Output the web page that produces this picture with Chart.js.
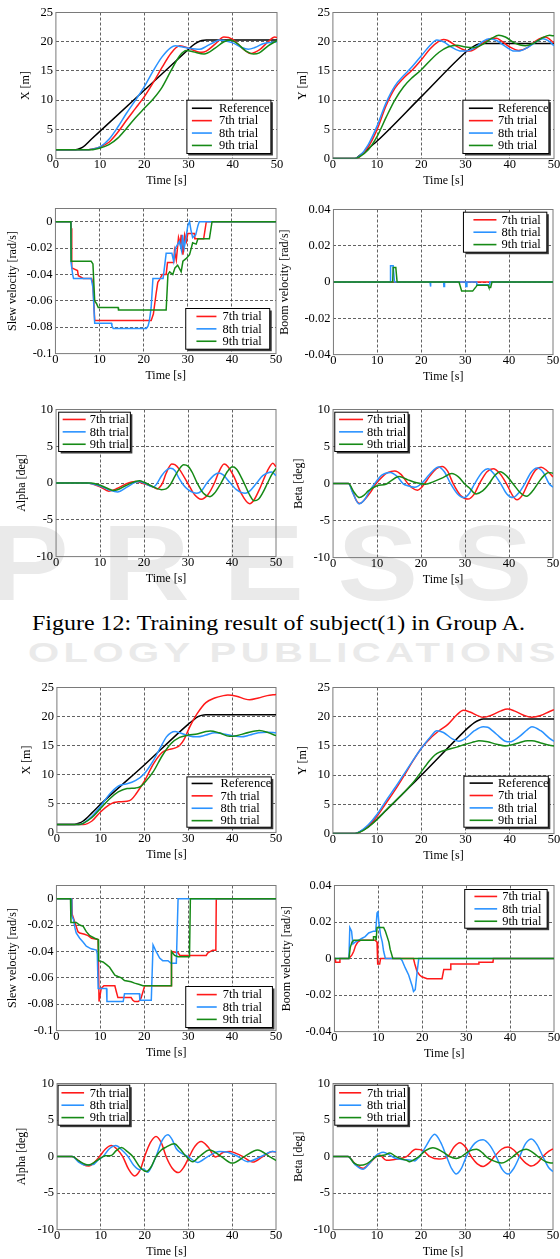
<!DOCTYPE html>
<html>
<head>
<meta charset="utf-8">
<script src="https://cdn.jsdelivr.net/npm/chart.js@4.4.1/dist/chart.umd.min.js"></script>
<style>
  body { margin: 0; background: #fff; }
  #page { position: relative; width: 560px; height: 1259px; overflow: hidden; background: #fff; }
  .wm { position: absolute; color: #eaeaea; font-family: "Liberation Sans", Arial, sans-serif; font-weight: bold; white-space: nowrap; transform-origin: 0 0; }
  #caption { position: absolute; left: 0; top: 610px; font-family: "Liberation Serif", "Times New Roman", serif; font-size: 22px; color: #000; white-space: nowrap; transform-origin: 0 0; }
</style>
</head>
<body>
<div id="page">
  <div class="wm" id="wmPress" style="left:-12px; top:500px; font-size:108px; letter-spacing:30px;">PRESS</div>
  <div class="wm" id="wmPub" style="left:30px; top:638px; font-size:27px; letter-spacing:3px;">OLOGY PUBLICATIONS</div>
  <div id="caption">Figure 12: Training result of subject(1) in Group A.</div>
</div>
<script>
// ---- ticks / labels ----
var timeTicks = [0, 10, 20, 30, 40, 50];
var posTicks = [0, 5, 10, 15, 20, 25];
var posLabels = ['0', '5', '10', '15', '20', '25'];
var slewTicks = [0, -0.02, -0.04, -0.06, -0.08, -0.1];
var slewLabels = ['0', '-0.02', '-0.04', '-0.06', '-0.08', '-0.1'];
var boomTicks = [0.04, 0.02, 0, -0.02, -0.04];
var boomLabels = ['0.04', '0.02', '0', '-0.02', '-0.04'];
var angleTicks = [10, 5, 0, -5, -10];
var angleLabels = ['10', '5', '0', '-5', '-10'];
var refLabel = 'Reference';
var trialLabels = ['7th trial', '8th trial', '9th trial'];

// ---- Group A (Figure 12), [time s, value] ----
var xA_ref = [[0,1.5],[4,1.5],[5,1.6],[6,1.9],[8,3.3],[10,4.7],[20,11.7],[30,18.7],[31,19.4],[32,19.9],[33,20.2],[34,20.3],[50,20.3]];
var xA_7 = [[0,1.5],[7,1.5],[8,1.6],[10,2.0],[12,2.8],[14,4.5],[16,6.6],[18,8.6],[20,10.6],[22,13.0],[24,15.6],[26,18.0],[28,19.3],[30,18.9],[32,18.3],[33,18.2],[34,18.4],[36,19.6],[38,20.8],[40,20.4],[42,19.0],[44,18.0],[46,18.6],[48,20.0],[49.5,20.8],[50,20.7]];
var xA_8 = [[0,1.5],[7,1.5],[8,1.6],[10,2.0],[12,3.3],[14,5.4],[16,7.8],[18,10.0],[20,12.3],[22,15.0],[24,17.4],[26,19.0],[27,19.3],[28,19.2],[30,18.9],[32.5,18.7],[34,19.2],[36,20.0],[37,20.3],[38,20.2],[40,19.8],[42,19.0],[43.5,18.7],[45,19.0],[47,19.7],[50,20.0]];
var xA_9 = [[0,1.5],[8,1.5],[10,1.8],[12,2.4],[14,3.5],[16,5.2],[18,7.0],[20,8.6],[22,10.2],[24,12.2],[26,15.0],[28,17.6],[29.5,18.5],[31,18.3],[33.5,17.9],[36,18.9],[38,20.0],[39.5,20.3],[41,19.7],[43,18.4],[44.7,17.9],[46,18.1],[48,19.3],[50,20.2]];

var yA_ref = [[0,0],[5,0],[6,0.5],[8,1.7],[10,3.0],[20,10.6],[30,18.2],[31,18.8],[32,19.3],[33,19.6],[34,19.7],[50,19.7]];
var yA_7 = [[0,0],[5,0],[6,0.3],[8,2.0],[10,5.0],[12,9.0],[14,12.0],[16,13.8],[18,15.2],[20,16.9],[22,18.8],[24,20.1],[25,20.4],[26,20.2],[28,19.2],[30,18.5],[31,18.4],[32,18.7],[34,19.8],[36,20.6],[37,20.6],[38,20.2],[40,19.1],[42,18.5],[44,19.0],[46,20.2],[48,20.8],[50,19.8]];
var yA_8 = [[0,0],[5,0],[6,0.4],[8,2.4],[10,5.6],[12,9.5],[14,12.4],[16,14.2],[18,15.8],[20,17.6],[22,19.4],[23.5,20.3],[25,20.0],[27,19.0],[29,18.4],[30,18.4],[32,18.9],[34,20.1],[35.5,20.5],[37,20.2],[39,19.2],[41,18.4],[42,18.4],[44,19.0],[46,20.0],[47.5,20.5],[49,20.0],[50,19.3]];
var yA_9 = [[0,0],[5,0],[6,0.3],[8,1.5],[10,3.8],[12,7.0],[14,10.0],[16,12.3],[18,13.9],[20,15.2],[22,16.8],[24,18.2],[26,19.1],[28,19.4],[30,19.1],[32,19.0],[34,19.6],[36,20.6],[37.5,21.1],[39,20.8],[41,19.8],[43.5,19.3],[45,19.6],[47,20.5],[49,21.1],[50,21.0]];

var slewA_7 = [[0,0],[3.5,0],[3.6,-0.005],[3.7,-0.035],[5,-0.037],[5.2,-0.041],[6.3,-0.043],[8.2,-0.043],[8.5,-0.047],[8.9,-0.075],[21.7,-0.075],[22.2,-0.070],[22.8,-0.055],[23.2,-0.046],[23.6,-0.044],[24.2,-0.040],[25.1,-0.040],[25.4,-0.031],[26.8,-0.031],[27.0,-0.022],[27.4,-0.029],[27.9,-0.012],[28.3,-0.017],[28.5,-0.010],[28.9,-0.025],[29.3,-0.010],[29.7,-0.015],[30.0,-0.009],[31.5,-0.009],[31.6,-0.013],[33.6,-0.013],[34.2,0],[50,0]];
var slewA_8 = [[0,0],[3.5,0],[3.55,-0.031],[3.9,-0.040],[4.1,-0.043],[8.1,-0.043],[8.5,-0.050],[8.9,-0.077],[12.7,-0.077],[12.8,-0.079],[13.1,-0.081],[20.6,-0.081],[21.0,-0.079],[21.3,-0.075],[21.7,-0.065],[22.1,-0.043],[24.4,-0.043],[24.7,-0.035],[25.1,-0.024],[26.4,-0.024],[26.8,-0.030],[27.2,-0.020],[28.1,-0.015],[28.6,-0.022],[28.8,-0.010],[29.2,-0.020],[29.6,-0.012],[30.0,-0.003],[30.4,0],[30.7,-0.006],[31.1,-0.012],[31.8,-0.010],[32.3,-0.003],[32.6,0],[50,0]];
var slewA_9 = [[0,0],[3.5,0],[3.55,-0.030],[8.1,-0.030],[8.5,-0.032],[8.9,-0.060],[9.3,-0.062],[9.7,-0.065],[14.2,-0.065],[14.3,-0.067],[25.1,-0.067],[25.5,-0.040],[25.9,-0.038],[26.6,-0.040],[27.1,-0.035],[27.7,-0.033],[28.5,-0.038],[28.9,-0.030],[29.6,-0.028],[30.4,-0.025],[30.8,-0.020],[31.1,-0.016],[31.9,-0.017],[32.3,-0.013],[34.9,-0.013],[35.5,0],[50,0]];

var boomA_7 = [[0,0],[50,0]];
var boomA_8 = [[0,0],[12.9,0],[13.0,0.009],[13.6,0.009],[13.9,0],[22.0,0],[22.05,-0.0025],[22.15,-0.0025],[22.2,0],[25.1,0],[25.15,-0.0025],[25.25,-0.0025],[25.3,0],[30.1,0],[30.15,-0.0025],[30.35,-0.0025],[30.4,0],[32.6,0],[32.65,-0.0015],[35.5,-0.0015],[35.6,0],[50,0]];
var boomA_9 = [[0,0],[13.5,0],[13.6,0.008],[14.2,0.008],[14.5,0],[28.6,0],[29.2,-0.005],[31.7,-0.005],[32.5,-0.0025],[32.7,-0.0018],[35.2,-0.0018],[35.4,-0.003],[35.8,-0.003],[36.1,0],[50,0]];

var alphaA_7 = [[0,0],[4,0.05],[7,0],[10,-0.5],[12,-1.1],[14,-0.7],[16,-0.1],[18,0.2],[20,-0.1],[22,-0.5],[23,-0.8],[23.5,-0.6],[24.2,0],[25,1.3],[26.3,2.6],[27,2.5],[28,1.9],[30,-0.1],[31.5,-1.6],[33,-2.2],[34.5,-1.6],[36,0],[37,1.5],[38.2,2.6],[39,2.3],[40.5,0.8],[42,-1.3],[44,-2.8],[45,-2.3],[46.5,-0.5],[48,1.6],[49.3,2.7],[50,2.2]];
var alphaA_8 = [[0,0],[7,0],[10,-0.4],[12,-0.9],[14,-1.2],[16,-0.6],[18,0.1],[19,0.2],[20,0.0],[22,-0.5],[22.5,-0.4],[23,0],[24,1.0],[25,1.7],[26,2.0],[27,1.7],[28,0.6],[29,-0.3],[30,-0.9],[32,-1.4],[33,-1.1],[34.3,0],[36,1.1],[37,1.35],[38,1.1],[39.6,0],[41,-0.9],[43,-1.4],[44,-1.1],[45.6,0],[47,1.0],[49,1.5],[50,1.0]];
var alphaA_9 = [[0,0],[8,0],[10,-0.3],[12,-0.8],[13,-1.0],[14,-0.9],[16,-0.3],[18,0.2],[19,0.3],[20,0.1],[22,-0.5],[24,-0.9],[25,-0.8],[26,-0.2],[27,0.9],[28,1.9],[29,2.5],[30,2.3],[31,1.4],[32,0.1],[33.5,-1.4],[35,-1.85],[36,-1.4],[37.5,0],[39,1.6],[40.1,2.2],[41,1.9],[42.5,0.3],[44,-1.6],[45,-2.4],[46,-2.2],[47,-1.3],[48,-0.1],[49,1.1],[50,2.0]];

var betaA_7 = [[0,0],[3.5,0],[4.5,-1.2],[5.3,-2.3],[6.1,-2.7],[7,-2.3],[8.5,-1.2],[9.8,0],[11,0.8],[12.5,1.5],[14,1.7],[15.5,1.2],[17,0],[18,-0.6],[19.2,-0.9],[20,-0.6],[20.8,0],[22,1.0],[23.5,2.0],[24.8,2.3],[26,1.7],[27.3,0],[29,-1.6],[30.7,-2.1],[32,-1.5],[33.3,0],[35,1.6],[36.4,2.0],[38,1.3],[39.4,0],[41,-1.8],[41.8,-2.2],[43,-1.6],[44.3,0],[46,1.8],[47.3,2.2],[48.5,1.8],[50,0.9]];
var betaA_8 = [[0,0],[3.5,0],[4.5,-1.3],[5.9,-2.75],[7,-2.3],[8.3,-1.0],[9.5,0],[11,1.1],[13,1.5],[14.5,1.0],[15.9,0],[17,-0.3],[18.6,-0.5],[20.1,0],[22,1.3],[24,2.25],[25.3,1.6],[26.7,0],[28.3,-1.4],[29.8,-1.9],[31,-1.3],[32.2,0],[34,1.6],[35.2,2.0],[36.6,1.3],[38.1,0],[39.5,-1.4],[40.9,-1.9],[42.3,-1.2],[43.6,0],[45,1.5],[46.4,2.1],[47.8,1.5],[49.1,0],[50,-0.5]];
var betaA_9 = [[0,0],[3.5,0],[4.7,-1.1],[6,-1.9],[7,-1.6],[8,-1.0],[10,-0.3],[12,-0.1],[13,0.3],[15,0.95],[17,0.5],[19,0.1],[21,-0.1],[23,0.3],[25,0.8],[27,1.35],[28.5,0.9],[30,-0.1],[31,-0.6],[32.5,-1.4],[34,-1.0],[35.5,0],[36.5,0.9],[38,1.6],[39.5,1.0],[41,-0.1],[42.5,-1.2],[44,-1.7],[45.5,-0.9],[47,0.4],[48,1.1],[49,1.5],[50,1.4]];

// ---- Group B ----
var xB_ref = [[0,1.4],[4,1.4],[5,1.6],[6,2.0],[8,3.4],[10,4.9],[20,11.7],[30,18.7],[31,19.3],[32,19.9],[33,20.2],[34,20.3],[50,20.3]];
var xB_7 = [[0,1.4],[6,1.4],[8,2.0],[10,3.6],[12,4.8],[13,5.2],[14,5.3],[16,5.4],[17,5.7],[18,6.6],[20,8.9],[22,11.8],[24,13.8],[25,14.2],[26,14.4],[27,14.6],[28,15.0],[29,16.0],[30,17.7],[31,19.2],[32,20.5],[34,22.4],[36,23.2],[38,23.6],[39,23.7],[41,23.5],[43,23.0],[44,22.9],[46,23.2],[48,23.6],[50,23.8]];
var xB_8 = [[0,1.4],[5,1.4],[6,1.6],[8,2.8],[10,4.6],[12,6.6],[14,8.0],[15,8.3],[16,8.4],[18,9.0],[20,10.2],[22,12.4],[24,15.2],[25,16.5],[26,17.2],[27,17.4],[28,17.2],[30,16.7],[32,16.5],[34,16.8],[36,17.2],[38,17.0],[40,16.7],[42,16.5],[44,16.8],[46,17.2],[48,17.3],[50,17.2]];
var xB_9 = [[0,1.4],[5,1.4],[6,1.6],[8,2.6],[10,4.2],[12,5.8],[14,7.0],[16,7.6],[18,7.7],[19,7.9],[20,8.6],[22,10.5],[24,13.2],[26,15.3],[28,16.4],[30,16.8],[32,17.0],[34,17.4],[35,17.5],[37,17.2],[39.4,16.6],[41,16.7],[43,17.1],[46.2,17.6],[48,17.3],[50,16.7]];

var yB_ref = [[0,0],[5,0],[6,0.3],[8,1.2],[10,2.5],[20,10.0],[30,17.7],[31,18.4],[32,19.0],[33,19.4],[34,19.6],[50,19.6]];
var yB_7 = [[0,0],[5,0],[6,0.2],[8,1.3],[10,3.0],[12,5.2],[14,7.4],[16,9.8],[18,12.3],[20,14.6],[22,16.3],[24,17.6],[26,18.7],[28,20.3],[29.5,21.1],[31,20.8],[33,20.1],[34,19.9],[36,20.3],[38,21.0],[39.5,21.3],[41,21.0],[43,20.3],[45,19.9],[47,20.2],[49,20.9],[50,21.2]];
var yB_8 = [[0,0],[5,0],[6,0.3],[8,1.5],[10,3.3],[12,5.6],[14,7.8],[16,10.1],[18,12.4],[20,14.6],[22,16.5],[23.5,17.6],[25,17.3],[27,16.2],[28.5,15.8],[30,16.3],[32,17.6],[34,18.3],[35,18.2],[37,17.0],[39,15.8],[40,15.7],[42,16.5],[44,17.8],[45,18.3],[47,17.6],[49,16.3],[50,15.8]];
var yB_9 = [[0,0],[5,0],[6,0.2],[8,1.1],[10,2.4],[12,4.0],[14,5.5],[16,7.0],[18,8.6],[20,10.6],[22,12.6],[23,13.4],[24,13.9],[26,14.4],[28,14.8],[30,15.3],[32,15.7],[33,15.9],[35,15.7],[37,15.3],[39,15.0],[40,15.1],[42,15.5],[44,15.9],[45,15.9],[47,15.5],[49,15.1],[50,15.0]];

var slewB_7 = [[0,0],[3.5,0],[3.6,-0.012],[4.2,-0.018],[4.9,-0.025],[5.3,-0.026],[6.4,-0.027],[7.2,-0.028],[8.0,-0.030],[9.5,-0.031],[9.7,-0.078],[9.9,-0.078],[10.2,-0.068],[10.8,-0.066],[13.3,-0.066],[13.6,-0.070],[14.0,-0.075],[17.0,-0.075],[17.4,-0.077],[17.8,-0.078],[18.6,-0.078],[19.0,-0.077],[19.3,-0.075],[20.1,-0.066],[26.1,-0.066],[26.2,-0.040],[27.7,-0.041],[28.1,-0.043],[34.1,-0.043],[34.5,-0.041],[35.6,-0.039],[36.3,-0.039],[36.4,0],[50,0]];
var slewB_8 = [[0,0],[3.4,0],[3.5,-0.013],[3.9,-0.016],[4.2,-0.022],[4.5,-0.026],[5.3,-0.030],[6.1,-0.033],[6.8,-0.036],[7.9,-0.038],[9.1,-0.039],[9.3,-0.042],[9.5,-0.068],[11.4,-0.068],[11.5,-0.078],[15.2,-0.078],[15.5,-0.072],[18.9,-0.072],[19.0,-0.077],[21.6,-0.077],[22.0,-0.035],[22.7,-0.040],[23.5,-0.045],[24.2,-0.047],[25.4,-0.047],[26.1,-0.049],[27.3,-0.049],[27.7,0],[50,0]];
var slewB_9 = [[0,0],[3.2,0],[3.3,-0.018],[4.5,-0.018],[5.3,-0.020],[6.1,-0.021],[6.8,-0.025],[7.6,-0.028],[8.7,-0.030],[9.5,-0.031],[9.6,-0.047],[10.6,-0.048],[11.4,-0.050],[12.1,-0.052],[13.3,-0.058],[14.0,-0.059],[14.8,-0.060],[15.5,-0.062],[17.0,-0.063],[17.8,-0.064],[18.9,-0.065],[19.7,-0.066],[26.1,-0.066],[26.2,-0.040],[26.9,-0.043],[27.7,-0.044],[30.3,-0.044],[30.5,0],[50,0]];

var boomB_7 = [[0,0],[0.2,0],[0.25,-0.002],[1.2,-0.002],[1.25,0],[3.3,0],[4.0,0.002],[4.4,0.004],[4.8,0.007],[5.3,0.009],[5.9,0.010],[9.3,0.010],[9.7,0.009],[9.8,0],[9.9,-0.003],[10.3,-0.003],[10.5,0],[18.0,0],[18.3,-0.003],[18.8,-0.007],[19.4,-0.009],[19.9,-0.010],[21.1,-0.011],[24.5,-0.011],[24.9,-0.006],[26.4,-0.006],[26.5,-0.003],[32.8,-0.003],[32.9,-0.002],[36.1,-0.002],[36.2,0],[50,0]];
var boomB_8 = [[0,0],[3.3,0],[3.5,0.017],[3.9,0.015],[4.2,0.008],[4.7,0.009],[5.5,0.010],[6.2,0.011],[7.0,0.012],[7.8,0.014],[8.9,0.015],[9.4,0.015],[9.7,0.025],[9.9,0.026],[10.1,0.020],[10.5,0.013],[10.9,0.009],[11.2,0.004],[11.6,0],[15.0,0],[15.4,-0.001],[16.1,-0.005],[16.9,-0.009],[17.7,-0.015],[18.0,-0.018],[18.4,-0.017],[18.8,-0.008],[19.2,0],[50,0]];
var boomB_9 = [[0,0],[3.3,0],[3.6,0.006],[4.0,0.009],[4.4,0.010],[8.8,0.010],[8.9,0.012],[9.4,0.012],[9.5,0.010],[9.7,0.017],[11.2,0.017],[11.6,0.015],[12.0,0.012],[12.4,0.009],[12.7,0.005],[13.3,0],[50,0]];

var alphaB_7 = [[0,0],[3.3,0],[5,-0.6],[6,-1.1],[7.3,-1.3],[8.5,-0.8],[9.7,0],[11,1.0],[12.4,1.5],[13.7,1.0],[15,0],[16.3,-1.7],[17.7,-2.65],[19,-1.8],[20,0],[21.3,1.9],[22.6,2.75],[23.8,1.9],[24.9,0],[26.3,-1.6],[27.7,-2.2],[29,-1.4],[30.2,0],[31.5,1.4],[32.9,2.05],[34.5,1.3],[36.2,-0.05],[38,0.6],[39.5,0.7],[41,0.4],[42.4,0],[44.7,-0.75],[47,0],[49.2,0.7],[50,0.6]];
var alphaB_8 = [[0,0],[3.5,0],[5,-0.8],[6.3,-1.15],[8.2,-1.1],[9.5,-0.4],[10.5,0],[12,1.1],[13.4,1.5],[14.8,0.9],[16.2,0],[17.5,-1.2],[18.8,-1.8],[19.7,-1.7],[20.7,-2.15],[21.7,-1.2],[22.6,0],[24,2.2],[25.3,2.97],[26.3,2.3],[27.2,1.1],[28.3,0.5],[29.9,0],[32.1,-0.8],[34.4,0],[37.1,0.7],[39,0.6],[41.3,0],[43.5,-0.7],[46.6,0],[49.2,0.7],[50,0.65]];
var alphaB_9 = [[0,0],[3.5,0],[5,-0.6],[7.1,-1.15],[9,-0.6],[10.5,0],[11,0.1],[12.4,0.15],[13.5,0.8],[14.7,1.25],[16,0.7],[17.3,0],[19,-1.5],[20.4,-2.05],[21.5,-1.4],[22.6,0],[23.8,0.9],[24.9,1.3],[26.8,1.75],[28,1.1],[29.5,0],[31,-0.7],[32.5,0],[34.8,0.9],[37.5,0],[40,-0.9],[42.8,0],[45.8,0.9],[48.5,0],[50,-0.55]];

var betaB_7 = [[0,0],[3.4,0],[5,-1.0],[6.8,-1.6],[8.3,-0.9],[9.8,0],[10.6,0.2],[12.1,-0.5],[14,-0.4],[15.2,-0.3],[16.7,0],[18.8,1.0],[20.5,0.8],[22,0],[24.1,-0.35],[26.1,0],[27.5,1.3],[28.8,1.9],[30.1,1.3],[31.4,0],[32.8,-1.0],[34.1,-1.35],[35.4,-0.9],[36.7,0],[38.3,1.0],[39.8,1.3],[41.1,0.9],[42.4,0],[43.8,-0.9],[45.1,-1.3],[46.4,-0.9],[47.7,0],[49,0.7],[50,1.05]];
var betaB_8 = [[0,0],[3.4,0],[5,-1.1],[6.8,-1.75],[8.2,-1.0],[9.5,0],[11.4,0.6],[12.9,0.2],[14,-0.2],[15.9,-0.4],[17.8,-0.5],[18.6,-0.6],[19.2,-0.3],[19.7,0],[21.2,1.5],[23.1,3.05],[24.5,1.9],[25.8,0],[27,-1.7],[28,-2.4],[29.2,-1.6],[30.3,0],[32.2,1.8],[34.1,2.3],[35.7,1.5],[37.1,0],[38.5,-1.8],[39.8,-2.4],[41.1,-1.6],[42.4,0],[43.8,1.8],[45.1,2.4],[46.4,1.6],[47.7,0],[49,-1.5],[50,-2.05]];
var betaB_9 = [[0,0],[3.4,0],[4.8,-0.9],[6.1,-1.2],[7.6,-1.0],[8.8,-0.5],[9.8,0],[10.6,0.1],[11.7,0.2],[12.9,0.5],[14,0.1],[15.5,-0.3],[17,-0.6],[17.4,-0.7],[18.5,-0.4],[19.5,0],[21,0.8],[22.7,1.2],[25,0.6],[26.5,0],[28,-0.25],[29.2,0],[30.8,0.7],[32.6,1.0],[34,0.5],[34.8,0],[36.5,-0.6],[38.3,-0.9],[39.8,-0.5],[40.9,0],[42.4,0.7],[43.9,1.0],[45.3,0.6],[46.6,0],[48.5,-0.75],[50,-0.9]];

// ---- styling ----
var RED = '#ff1a1a', BLUE = '#2a92ff', GREEN = '#168a16', BLACK = '#000000';
var SERIF = '"Liberation Serif", "Times New Roman", serif';

Chart.defaults.font.family = SERIF;
Chart.defaults.font.size = 12.5;
Chart.defaults.color = '#000';
Chart.defaults.animation = false;

function gridColor(ctx) {
  var s = ctx.scale;
  if (ctx.tick && (Math.abs(ctx.tick.value - s.min) < 1e-9 || Math.abs(ctx.tick.value - s.max) < 1e-9)) {
    return 'rgba(0,0,0,0)';
  }
  return '#3a3a3a';
}

function makePlot(p) {
  var page = document.getElementById('page');
  var cv = document.createElement('canvas');
  cv.style.position = 'absolute';
  cv.width = 300;
  cv.height = 220;
  page.appendChild(cv);

  var sets = p.series.map(function (s, i) {
    return {
      label: s.label,
      data: s.pts.map(function (q) { return {x: q[0], y: q[1]}; }),
      borderColor: s.color,
      borderWidth: 1.5,
      pointRadius: 0,
      fill: false,
      tension: 0,
      cubicInterpolationMode: p.smooth ? 'monotone' : 'default',
      order: -i
    };
  });

  var framePlugin = {
    id: 'frame',
    beforeDatasetsDraw: function (chart) {
      var a = chart.chartArea, ctx = chart.ctx;
      ctx.save();
      ctx.strokeStyle = '#7a7a7a';
      ctx.lineWidth = 1;
      ctx.strokeRect(a.left, a.top, a.right - a.left, a.bottom - a.top);
      ctx.restore();
    }
  };

  var legendPlugin = {
    id: 'boxLegend',
    afterDraw: function (chart) {
      var a = chart.chartArea, ctx = chart.ctx, L = p.legend;
      var ox = a.left - p.area.l, oy = a.top - p.area.t;
      var x0 = L.box[0] + ox, y0 = L.box[1] + oy;
      var w = L.box[2] - L.box[0], h = L.box[3] - L.box[1];
      ctx.save();
      ctx.fillStyle = '#3c3c3c';
      ctx.fillRect(x0 + 2, y0 + 2, w, h);
      ctx.fillStyle = '#fff';
      ctx.fillRect(x0, y0, w, h);
      ctx.strokeStyle = '#000';
      ctx.lineWidth = 1;
      ctx.strokeRect(x0, y0, w, h);
      var n = p.series.length, gap = 12.4;
      var first = y0 + (h - (n - 1) * gap) / 2;
      ctx.font = '12.5px ' + SERIF;
      ctx.textBaseline = 'middle';
      ctx.textAlign = 'left';
      p.series.forEach(function (s, i) {
        var yy = first + i * gap;
        ctx.strokeStyle = s.color;
        ctx.lineWidth = 1.6;
        ctx.beginPath();
        ctx.moveTo(x0 + L.line[0], yy);
        ctx.lineTo(x0 + L.line[1], yy);
        ctx.stroke();
        ctx.fillStyle = '#000';
        ctx.fillText(s.label, x0 + L.text, yy + 0.5);
      });
      ctx.restore();
    }
  };

  var chart = new Chart(cv, {
    type: 'line',
    data: {datasets: sets},
    options: {
      responsive: false,
      maintainAspectRatio: false,
      animation: false,
      layout: {padding: {top: 6, right: 10, left: 2, bottom: 2}},
      plugins: {legend: {display: false}, tooltip: {enabled: false}},
      scales: {
        x: {
          type: 'linear', min: 0, max: 50,
          afterBuildTicks: function (s) { s.ticks = timeTicks.map(function (v) { return {value: v}; }); },
          ticks: {padding: -1, maxRotation: 0, autoSkip: false, callback: function (v) { return String(v); }},
          grid: {color: gridColor, lineWidth: 0.8, drawTicks: false},
          border: {display: false, dash: [3, 2]},
          title: {display: true, text: 'Time [s]', font: {size: 12}, padding: {top: 2, bottom: 0}}
        },
        y: {
          type: 'linear', min: p.yMin, max: p.yMax,
          afterBuildTicks: function (s) { s.ticks = p.yTicks.map(function (v) { return {value: v}; }); },
          ticks: {padding: 3, autoSkip: false, callback: function (v, i) { return p.yLabels[i]; }},
          grid: {color: gridColor, lineWidth: 0.8, drawTicks: false},
          border: {display: false, dash: [3, 2]},
          title: {display: true, text: p.yTitle, font: {size: 12}, padding: {top: 0, bottom: p.titleGap}}
        }
      }
    },
    plugins: [framePlugin, legendPlugin]
  });

  var a = chart.chartArea;
  var w = p.area.r - p.area.l, h = p.area.b - p.area.t;
  chart.resize(Math.round(a.left + w + (chart.width - a.right)), Math.round(a.top + h + (chart.height - a.bottom)));
  a = chart.chartArea;
  cv.style.left = (p.area.l - a.left) + 'px';
  cv.style.top = (p.area.t - a.top) + 'px';
  return chart;
}

function withRef(ref, s7, s8, s9) {
  return [
    {label: refLabel, color: BLACK, pts: ref},
    {label: trialLabels[0], color: RED, pts: s7},
    {label: trialLabels[1], color: BLUE, pts: s8},
    {label: trialLabels[2], color: GREEN, pts: s9}
  ];
}
function trials(s7, s8, s9) {
  return [
    {label: trialLabels[0], color: RED, pts: s7},
    {label: trialLabels[1], color: BLUE, pts: s8},
    {label: trialLabels[2], color: GREEN, pts: s9}
  ];
}

// ---- Figure 12 (Group A) ----
makePlot({area: {l: 55.7, t: 12.3, r: 276.7, b: 158}, yTitle: 'X [m]', yMin: 0, yMax: 25, yTicks: posTicks, yLabels: posLabels, titleGap: 4, smooth: true,
  series: withRef(xA_ref, xA_7, xA_8, xA_9), legend: {box: [186.7, 100, 270.7, 153.3], line: [5, 25], text: 32}});
makePlot({area: {l: 333.3, t: 12.3, r: 554, b: 158}, yTitle: 'Y [m]', yMin: 0, yMax: 25, yTicks: posTicks, yLabels: posLabels, titleGap: 4, smooth: true,
  series: withRef(yA_ref, yA_7, yA_8, yA_9), legend: {box: [463.3, 100, 549.3, 153.3], line: [6, 30], text: 35}});
makePlot({area: {l: 55.7, t: 208.3, r: 276.7, b: 353.3}, yTitle: 'Slew velocity [rad/s]', yMin: -0.1, yMax: 0.01, yTicks: slewTicks, yLabels: slewLabels, titleGap: 3, smooth: false,
  series: trials(slewA_7, slewA_8, slewA_9), legend: {box: [186, 308.3, 270, 349], line: [10.7, 30.7], text: 36.7}});
makePlot({area: {l: 333.3, t: 209, r: 553.3, b: 354.3}, yTitle: 'Boom velocity [rad/s]', yMin: -0.04, yMax: 0.04, yTicks: boomTicks, yLabels: boomLabels, titleGap: 9, smooth: false,
  series: trials(boomA_7, boomA_8, boomA_9), legend: {box: [463.3, 211.7, 546.7, 251.7], line: [10, 33], text: 38}});
makePlot({area: {l: 55.7, t: 409, r: 276, b: 556}, yTitle: 'Alpha [deg]', yMin: -10, yMax: 10, yTicks: angleTicks, yLabels: angleLabels, titleGap: 4, smooth: true,
  series: trials(alphaA_7, alphaA_8, alphaA_9), legend: {box: [58.3, 411.7, 130, 451], line: [4, 27], text: 31}});
makePlot({area: {l: 333.3, t: 409.3, r: 553.3, b: 557.3}, yTitle: 'Beta [deg]', yMin: -10, yMax: 10, yTicks: angleTicks, yLabels: angleLabels, titleGap: 4, smooth: true,
  series: trials(betaA_7, betaA_8, betaA_9), legend: {box: [335, 412, 408.3, 451.3], line: [4.3, 28.3], text: 32.3}});

// ---- Group B ----
makePlot({area: {l: 57.3, t: 687.3, r: 276.7, b: 832.7}, yTitle: 'X [m]', yMin: 0, yMax: 25, yTicks: posTicks, yLabels: posLabels, titleGap: 4, smooth: true,
  series: withRef(xB_ref, xB_7, xB_8, xB_9), legend: {box: [187.3, 776.7, 271.7, 827], line: [4.7, 25.7], text: 33.7}});
makePlot({area: {l: 333.3, t: 687.3, r: 554, b: 833.3}, yTitle: 'Y [m]', yMin: 0, yMax: 25, yTicks: posTicks, yLabels: posLabels, titleGap: 4, smooth: true,
  series: withRef(yB_ref, yB_7, yB_8, yB_9), legend: {box: [464.3, 776, 548.7, 827], line: [5.7, 29], text: 34}});
makePlot({area: {l: 56.7, t: 885.7, r: 276.7, b: 1031}, yTitle: 'Slew velocity [rad/s]', yMin: -0.1, yMax: 0.01, yTicks: slewTicks, yLabels: slewLabels, titleGap: 4, smooth: false,
  series: trials(slewB_7, slewB_8, slewB_9), legend: {box: [186, 986.7, 272.7, 1027.7], line: [11, 31], text: 37}});
makePlot({area: {l: 334, t: 885, r: 554, b: 1031}, yTitle: 'Boom velocity [rad/s]', yMin: -0.04, yMax: 0.04, yTicks: boomTicks, yLabels: boomLabels, titleGap: 8, smooth: false,
  series: trials(boomB_7, boomB_8, boomB_9), legend: {box: [464.3, 889, 546.7, 927.7], line: [9.7, 32.4], text: 37.4}});
makePlot({area: {l: 57.3, t: 1083.3, r: 276.7, b: 1229.3}, yTitle: 'Alpha [deg]', yMin: -10, yMax: 10, yTicks: angleTicks, yLabels: angleLabels, titleGap: 5, smooth: true,
  series: trials(alphaB_7, alphaB_8, alphaB_9), legend: {box: [58.3, 1085, 130, 1125], line: [3.4, 26], text: 31.7}});
makePlot({area: {l: 333.3, t: 1083.3, r: 553.3, b: 1229.3}, yTitle: 'Beta [deg]', yMin: -10, yMax: 10, yTicks: angleTicks, yLabels: angleLabels, titleGap: 4, smooth: true,
  series: trials(betaB_7, betaB_8, betaB_9), legend: {box: [335, 1085, 408.3, 1125], line: [4.3, 26.4], text: 32.3}});

// stretch caption and watermark text to the widths seen in the figure
function fitWidth(id, left, right) {
  var el = document.getElementById(id);
  var w = el.getBoundingClientRect().width;
  el.style.left = left + 'px';
  el.style.transform = 'scaleX(' + ((right - left) / w) + ')';
}
fitWidth('caption', 32, 525);
fitWidth('wmPress', -12, 566);
fitWidth('wmPub', 28, 560);
</script>
</body>
</html>
